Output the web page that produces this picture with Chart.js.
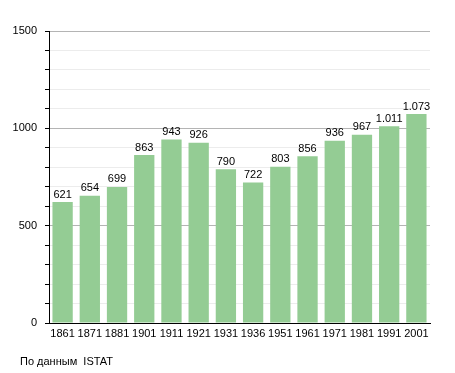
<!DOCTYPE html>
<html>
<head>
<meta charset="utf-8">
<script src="https://cdn.jsdelivr.net/npm/chart.js@4.4.0/dist/chart.umd.min.js"></script>
<style>
  body { margin: 0; background: #fff; }
  #wrap { position: relative; width: 455px; height: 373px; }
  #src { position: absolute; left: 20px; top: 355px; font: 11px "Liberation Sans", Arial, sans-serif; color: #000; }
</style>
</head>
<body>
<div id="wrap">
  <canvas id="c" width="455" height="373"></canvas>
  <div id="src">По данным &nbsp;ISTAT</div>
</div>
<script>
// годы переписей и численность населения
var years = ['1861', '1871', '1881', '1901', '1911', '1921', '1931', '1936', '1951', '1961', '1971', '1981', '1991', '2001'];
var population = [621, 654, 699, 863, 943, 926, 790, 722, 803, 856, 936, 967, 1011, 1073];
var yTicks = [0, 500, 1000, 1500];

var FONT = '"Liberation Sans", Arial, sans-serif';

function fmt(v) {
    return String(v).replace(/\B(?=(\d{3})+(?!\d))/g, '.');
}

// подписи значений над столбцами
var valueLabels = {
    id: 'valueLabels',
    afterDatasetsDraw: function (chart) {
        var ctx = chart.ctx;
        var meta = chart.getDatasetMeta(0);
        ctx.save();
        ctx.font = '11px ' + FONT;
        ctx.fillStyle = '#000';
        ctx.textAlign = 'center';
        ctx.textBaseline = 'bottom';
        meta.data.forEach(function (bar, i) {
            ctx.fillText(fmt(population[i]), bar.x, bar.y - 2);
        });
        ctx.restore();
    }
};

new Chart(document.getElementById('c'), {
    type: 'bar',
    data: {
        labels: years,
        datasets: [{
            data: population,
            backgroundColor: '#94cc94',
            borderWidth: 0,
            categoryPercentage: 1,
            barPercentage: 0.746
        }]
    },
    options: {
        responsive: false,
        animation: false,
        layout: { padding: { top: 31, right: 25, bottom: 30, left: 0 } },
        plugins: { legend: { display: false }, tooltip: { enabled: false } },
        scales: {
            x: {
                afterFit: function (s) { s.height = 20; },
                grid: { display: false, drawTicks: false },
                border: { color: '#000', width: 1 },
                ticks: { color: '#000', font: { family: FONT, size: 11 }, padding: 4, maxRotation: 0, autoSkip: false }
            },
            y: {
                min: 0,
                max: 1500,
                afterFit: function (s) { s.width = 49; },
                border: { color: '#000', width: 1 },
                grid: {
                    color: function (c) { return c.tick && yTicks.indexOf(c.tick.value) >= 0 ? '#b4b4b4' : '#ececec'; },
                    tickColor: '#000',
                    tickLength: 4
                },
                ticks: {
                    stepSize: 100,
                    color: '#000',
                    padding: 8,
                    font: { family: FONT, size: 11 },
                    callback: function (v) { return yTicks.indexOf(v) >= 0 ? v : ''; }
                }
            }
        }
    },
    plugins: [valueLabels]
});
</script>
</body>
</html>
